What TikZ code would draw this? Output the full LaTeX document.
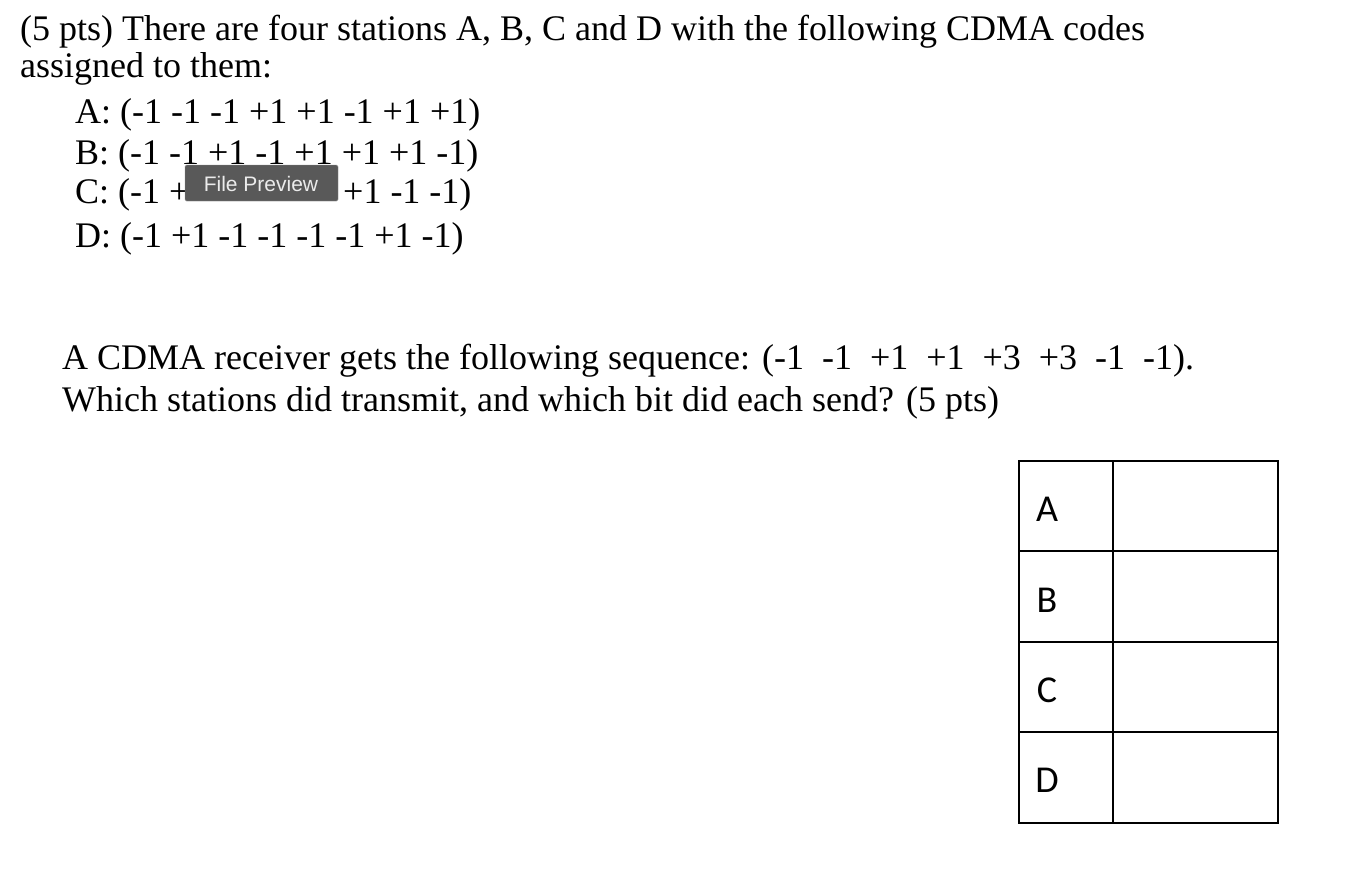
\documentclass[tikz,border=0pt]{standalone}
\usepackage{fontspec}
\setmainfont{Liberation Serif}
\newfontfamily\tipfont{Liberation Sans}
\newfontfamily\tabfont{Carlito}
\begin{document}
\begin{tikzpicture}[x=1pt,y=-1pt,
  txt/.style={anchor=base west,inner sep=0pt,font=\fontsize{36}{40}\selectfont},
  lab/.style={inner sep=0pt,font=\tabfont\fontsize{38}{40}\selectfont},
  cellline/.style={draw=black,line width=1.2pt}]
\useasboundingbox (0,0) rectangle (1360,868);
\node[txt] (l1) at (20,40) {(5 pts) There are four stations A, B, C and D with the following CDMA codes};
\node[txt] (l2) at (20,77) {assigned to them:};
\node[txt] (ca) at (75,123) {A: (-1 -1 -1 +1 +1 -1 +1 +1)};
\node[txt] (cb) at (75,164) {B: (-1 -1 +1 -1 +1 +1 +1 -1)};
\node[txt] (cc) at (75,203) {C: (-1 +};
\node[txt] (cc2) at (343,203) {+1 -1 -1)};
\node[txt] (cd) at (75,247) {D: (-1 +1 -1 -1 -1 -1 +1 -1)};
\node[txt] (s1) at (62,369) {A CDMA receiver gets the following sequence: (-1\ \ -1\ \ +1\ \ +1\ \ +3\ \ +3\ \ -1\ \ -1).};
\node[txt] (s2) at (62,411) {Which stations did transmit, and which bit did each send? (5 pts)};
\fill[black!65,rounded corners=1.5pt,draw=black!45] (185,165) rectangle (338,201);
\node[inner sep=0pt,text=white!92!black,font=\tipfont\fontsize{21}{24}\selectfont] (tip) at (261,184) {File Preview};
\draw[cellline] (1019,461) rectangle (1278,823);
\draw[cellline] (1113,461) -- (1113,823);
\draw[cellline] (1019,551) -- (1278,551);
\draw[cellline] (1019,642) -- (1278,642);
\draw[cellline] (1019,732) -- (1278,732);
\node[lab] (ta) at (1047,509) {A};
\node[lab] (tb) at (1047,600) {B};
\node[lab] (tc) at (1047,690) {C};
\node[lab] (td) at (1047,780) {D};
\end{tikzpicture}
\end{document}
